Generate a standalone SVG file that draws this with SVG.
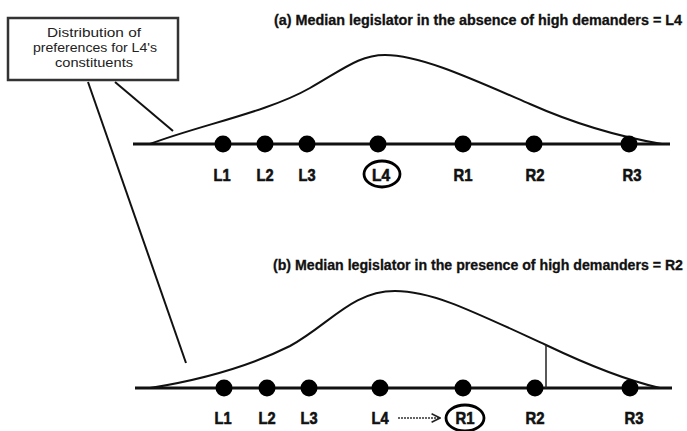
<svg xmlns="http://www.w3.org/2000/svg" width="687" height="431" viewBox="0 0 687 431">
  <defs>
    <style>
      .title { font-family: "Liberation Sans", Arial, sans-serif; font-weight: bold; font-size: 14px; fill: #111; stroke: #111; stroke-width: 0.3; }
      .lbl { font-family: "Liberation Sans", Arial, sans-serif; font-weight: bold; font-size: 16.5px; fill: #111; stroke: #111; stroke-width: 0.6; text-anchor: middle; }
      .note { font-family: "Liberation Sans", Arial, sans-serif; font-size: 13px; fill: #222; text-anchor: middle; }
      .axis { stroke: #111; stroke-width: 3; fill: none; }
      .curve { stroke: #111; stroke-width: 2; fill: none; }
      .dot { fill: #000; }
      .ring { stroke: #000; stroke-width: 2.8; fill: none; }
      .conn { stroke: #111; stroke-width: 2; fill: none; }
    </style>
    <marker id="arrow" viewBox="0 0 10 10" refX="9" refY="5" markerWidth="7" markerHeight="7" orient="auto">
      <path d="M1,1 L9,5 L1,9" fill="none" stroke="#222" stroke-width="1.5"/>
    </marker>
  </defs>
  <rect width="687" height="431" fill="#fff"/>

  <g id="note">
    <rect x="8" y="18" width="170" height="62" fill="#fff" stroke="#333" stroke-width="2.5"/>
    <text class="note" x="94" y="37" textLength="94" lengthAdjust="spacingAndGlyphs">Distribution of</text>
    <text class="note" x="95" y="52" textLength="124" lengthAdjust="spacingAndGlyphs">preferences for L4's</text>
    <text class="note" x="94" y="67" textLength="78" lengthAdjust="spacingAndGlyphs">constituents</text>
  </g>

  <g id="connectors">
    <line class="conn" x1="115" y1="82" x2="173" y2="131"/>
    <line class="conn" x1="88" y1="82" x2="186" y2="363"/>
    <line x1="398" y1="418" x2="440" y2="418" stroke="#333" stroke-width="1.5" stroke-dasharray="2 1" marker-end="url(#arrow)"/>
  </g>

  <g id="panel-a">
    <text class="title" x="274" y="25" textLength="408" lengthAdjust="spacingAndGlyphs">(a) Median legislator in the absence of high demanders = L4</text>
    <line class="axis" x1="133" y1="144" x2="670" y2="144"/>
    <path class="curve" d="M150,144 C200,125 268,112 310,88 C345,68 360,55 385,55 C420,55 470,78 530,104 C575,124 615,136 662,144"/>
    <g id="a-L1"><circle class="dot" cx="223" cy="144" r="8.5"/><text class="lbl" x="222" y="181" textLength="17" lengthAdjust="spacingAndGlyphs">L1</text></g>
    <g id="a-L2"><circle class="dot" cx="265" cy="144" r="8.5"/><text class="lbl" x="265" y="181" textLength="17" lengthAdjust="spacingAndGlyphs">L2</text></g>
    <g id="a-L3"><circle class="dot" cx="307" cy="144" r="8.5"/><text class="lbl" x="307" y="181" textLength="17" lengthAdjust="spacingAndGlyphs">L3</text></g>
    <g id="a-L4"><circle class="dot" cx="378" cy="144" r="8.5"/><text class="lbl" x="381" y="181" textLength="18" lengthAdjust="spacingAndGlyphs">L4</text><ellipse class="ring" cx="382" cy="174" rx="18" ry="13"/></g>
    <g id="a-R1"><circle class="dot" cx="463" cy="144" r="8.5"/><text class="lbl" x="463" y="181" textLength="19" lengthAdjust="spacingAndGlyphs">R1</text></g>
    <g id="a-R2"><circle class="dot" cx="534" cy="144" r="8.5"/><text class="lbl" x="535" y="181" textLength="19" lengthAdjust="spacingAndGlyphs">R2</text></g>
    <g id="a-R3"><circle class="dot" cx="629" cy="144" r="8.5"/><text class="lbl" x="632" y="181" textLength="19" lengthAdjust="spacingAndGlyphs">R3</text></g>
  </g>

  <g id="panel-b">
    <text class="title" x="273" y="270" textLength="410" lengthAdjust="spacingAndGlyphs">(b) Median legislator in the presence of high demanders = R2</text>
    <line class="axis" x1="135" y1="388" x2="672" y2="388"/>
    <path class="curve" d="M150,388 C200,380 250,366 290,346 C330,324 352,291 395,291 C432,291 470,310 546,345 C590,366 625,380 660,388"/>
    <line x1="546" y1="345" x2="546" y2="388" stroke="#222" stroke-width="1.5"/>
    <g id="b-L1"><circle class="dot" cx="224" cy="388" r="8.5"/><text class="lbl" x="223" y="424" textLength="17" lengthAdjust="spacingAndGlyphs">L1</text></g>
    <g id="b-L2"><circle class="dot" cx="267" cy="388" r="8.5"/><text class="lbl" x="267" y="424" textLength="17" lengthAdjust="spacingAndGlyphs">L2</text></g>
    <g id="b-L3"><circle class="dot" cx="309" cy="388" r="8.5"/><text class="lbl" x="309" y="424" textLength="17" lengthAdjust="spacingAndGlyphs">L3</text></g>
    <g id="b-L4"><circle class="dot" cx="380" cy="388" r="8.5"/><text class="lbl" x="380" y="424" textLength="17" lengthAdjust="spacingAndGlyphs">L4</text></g>
    <g id="b-R1"><circle class="dot" cx="463" cy="388" r="8.5"/><text class="lbl" x="465" y="424" textLength="19" lengthAdjust="spacingAndGlyphs">R1</text><ellipse class="ring" cx="465" cy="418" rx="19" ry="13"/></g>
    <g id="b-R2"><circle class="dot" cx="535" cy="388" r="8.5"/><text class="lbl" x="535" y="424" textLength="19" lengthAdjust="spacingAndGlyphs">R2</text></g>
    <g id="b-R3"><circle class="dot" cx="630" cy="388" r="8.5"/><text class="lbl" x="634" y="424" textLength="19" lengthAdjust="spacingAndGlyphs">R3</text></g>
  </g>
</svg>
